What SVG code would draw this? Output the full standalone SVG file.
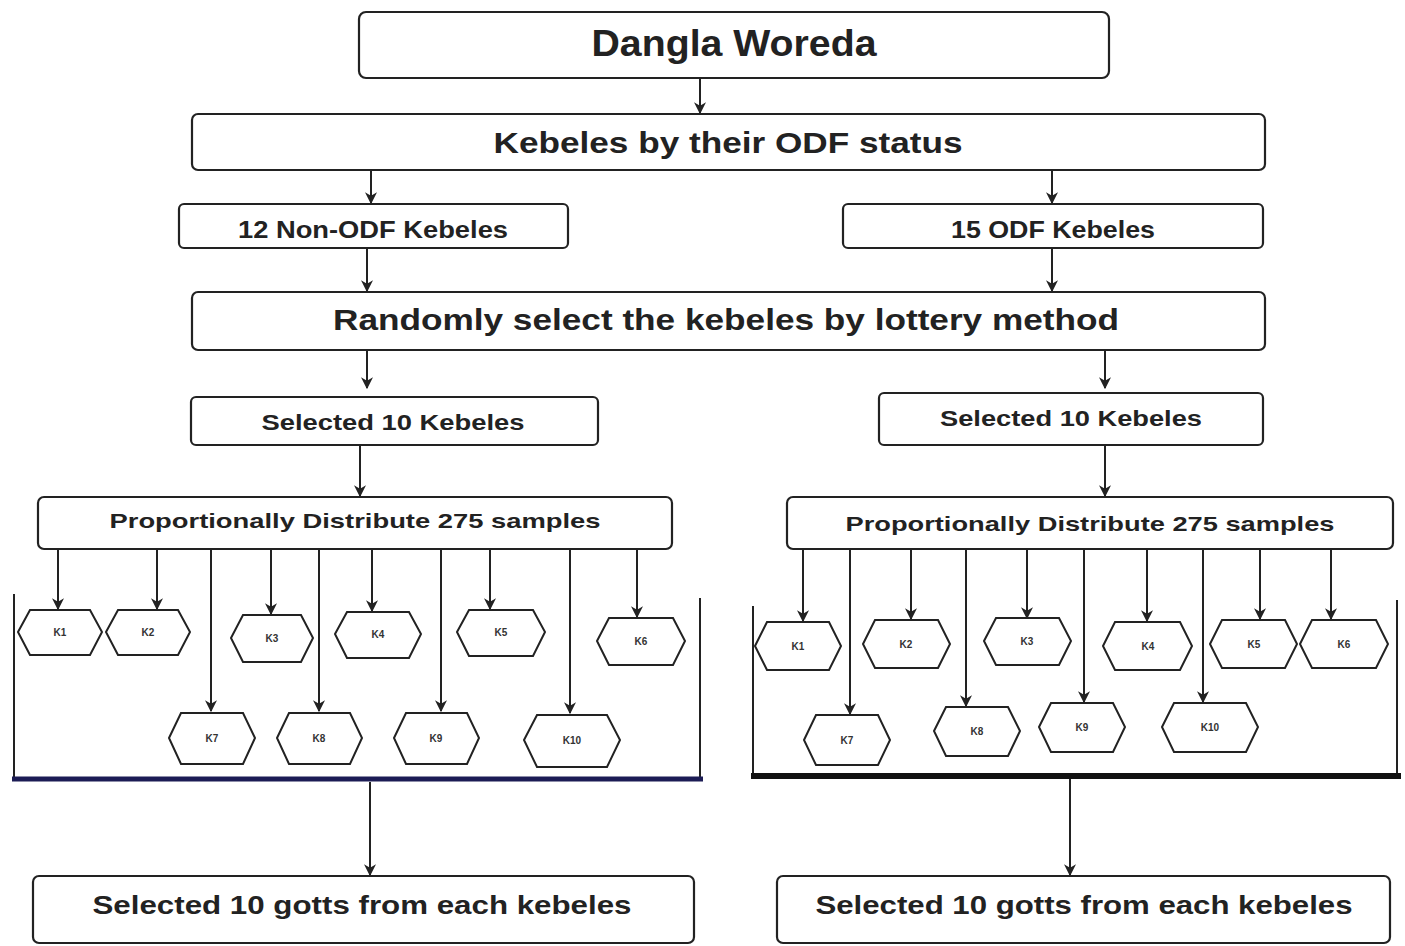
<svg xmlns="http://www.w3.org/2000/svg" width="1405" height="946" viewBox="0 0 1405 946">
<style>
.box{fill:#fff;stroke:#222;stroke-width:2.2}
.hex{fill:#fff;stroke:#222;stroke-width:2}
.t{font-family:"Liberation Sans",Arial,sans-serif;font-weight:bold;fill:#222;text-anchor:middle}
.h{font-family:"Liberation Sans",Arial,sans-serif;font-weight:bold;fill:#333;text-anchor:middle;font-size:10px}
.c{stroke:#222;stroke-width:2;fill:none;marker-end:url(#ah)}
.frame{stroke:#222;stroke-width:2;fill:none}
</style>
<defs>
<marker id="ah" viewBox="0 0 10 10" refX="9" refY="5" markerWidth="6" markerHeight="6" markerUnits="strokeWidth" orient="auto">
<path d="M0,0 L10,5 L0,10 L3,5 Z" fill="#222"/>
</marker>
</defs>
<rect width="1405" height="946" fill="#fff"/>

<g id="connectors">
<line class="c" x1="700" y1="79" x2="700" y2="113"/>
<line class="c" x1="371" y1="171" x2="371" y2="203"/>
<line class="c" x1="1052" y1="171" x2="1052" y2="203"/>
<line class="c" x1="367" y1="249" x2="367" y2="291"/>
<line class="c" x1="1052" y1="249" x2="1052" y2="291"/>
<line class="c" x1="367" y1="351" x2="367" y2="388"/>
<line class="c" x1="1105" y1="351" x2="1105" y2="388"/>
<line class="c" x1="360" y1="446" x2="360" y2="496"/>
<line class="c" x1="1105" y1="446" x2="1105" y2="496"/>
<line class="c" x1="58" y1="550" x2="58" y2="609"/>
<line class="c" x1="157" y1="550" x2="157" y2="609"/>
<line class="c" x1="211" y1="550" x2="211" y2="711"/>
<line class="c" x1="271" y1="550" x2="271" y2="614"/>
<line class="c" x1="319" y1="550" x2="319" y2="711"/>
<line class="c" x1="372" y1="550" x2="372" y2="611"/>
<line class="c" x1="441" y1="550" x2="441" y2="711"/>
<line class="c" x1="490" y1="550" x2="490" y2="609"/>
<line class="c" x1="570" y1="550" x2="570" y2="713"/>
<line class="c" x1="637" y1="550" x2="637" y2="617"/>
<line class="c" x1="803" y1="550" x2="803" y2="621"/>
<line class="c" x1="850" y1="550" x2="850" y2="714"/>
<line class="c" x1="911" y1="550" x2="911" y2="619"/>
<line class="c" x1="966" y1="550" x2="966" y2="706"/>
<line class="c" x1="1027" y1="550" x2="1027" y2="618"/>
<line class="c" x1="1084" y1="550" x2="1084" y2="702"/>
<line class="c" x1="1147" y1="550" x2="1147" y2="621"/>
<line class="c" x1="1203" y1="550" x2="1203" y2="702"/>
<line class="c" x1="1260" y1="550" x2="1260" y2="619"/>
<line class="c" x1="1331" y1="550" x2="1331" y2="619"/>
<line class="c" x1="370" y1="782" x2="370" y2="875"/>
<line class="c" x1="1070" y1="779" x2="1070" y2="875"/>
</g>

<g id="frames">
<polyline class="frame" points="14,594 14,778"/>
<polyline class="frame" points="700,598 700,778"/>
<line x1="12" y1="779" x2="703" y2="779" stroke="#1c1c55" stroke-width="5"/>
<polyline class="frame" points="753,606 753,776"/>
<polyline class="frame" points="1397,600 1397,776"/>
<line x1="751" y1="776" x2="1401" y2="776" stroke="#111" stroke-width="6"/>
</g>

<g id="n-dangla"><rect class="box" x="359" y="12" width="750" height="66" rx="7"/><text class="t" x="734" y="56" font-size="37" textLength="285" lengthAdjust="spacingAndGlyphs">Dangla Woreda</text></g>
<g id="n-kebeles"><rect class="box" x="192" y="114" width="1073" height="56" rx="6"/><text class="t" x="728" y="153" font-size="30" textLength="469" lengthAdjust="spacingAndGlyphs">Kebeles by their ODF status</text></g>
<g id="n-nonodf"><rect class="box" x="179" y="204" width="389" height="44" rx="5"/><text class="t" x="373" y="238" font-size="23" textLength="270" lengthAdjust="spacingAndGlyphs">12 Non-ODF Kebeles</text></g>
<g id="n-odf"><rect class="box" x="843" y="204" width="420" height="44" rx="5"/><text class="t" x="1053" y="238" font-size="23" textLength="204" lengthAdjust="spacingAndGlyphs">15 ODF Kebeles</text></g>
<g id="n-random"><rect class="box" x="192" y="292" width="1073" height="58" rx="6"/><text class="t" x="726" y="330" font-size="30" textLength="786" lengthAdjust="spacingAndGlyphs">Randomly select the kebeles by lottery method</text></g>
<g id="n-sel-left"><rect class="box" x="191" y="397" width="407" height="48" rx="5"/><text class="t" x="393" y="430" font-size="22" textLength="263" lengthAdjust="spacingAndGlyphs">Selected 10 Kebeles</text></g>
<g id="n-sel-right"><rect class="box" x="879" y="393" width="384" height="52" rx="5"/><text class="t" x="1071" y="426" font-size="22" textLength="262" lengthAdjust="spacingAndGlyphs">Selected 10 Kebeles</text></g>
<g id="n-prop-left"><rect class="box" x="38" y="497" width="634" height="52" rx="6"/><text class="t" x="355" y="528" font-size="21" textLength="491" lengthAdjust="spacingAndGlyphs">Proportionally Distribute 275 samples</text></g>
<g id="n-prop-right"><rect class="box" x="787" y="497" width="606" height="52" rx="6"/><text class="t" x="1090" y="531" font-size="21" textLength="489" lengthAdjust="spacingAndGlyphs">Proportionally Distribute 275 samples</text></g>

<g id="l-k1"><polygon class="hex" points="18,632 30,610 90,610 102,632 90,655 30,655"/><text class="h" x="60" y="636">K1</text></g>
<g id="l-k2"><polygon class="hex" points="106,632 118,610 178,610 190,632 178,655 118,655"/><text class="h" x="148" y="636">K2</text></g>
<g id="l-k3"><polygon class="hex" points="231,638 243,615 301,615 313,638 301,662 243,662"/><text class="h" x="272" y="642">K3</text></g>
<g id="l-k4"><polygon class="hex" points="335,634 347,612 409,612 421,634 409,658 347,658"/><text class="h" x="378" y="638">K4</text></g>
<g id="l-k5"><polygon class="hex" points="457,632 469,610 533,610 545,632 533,656 469,656"/><text class="h" x="501" y="636">K5</text></g>
<g id="l-k6"><polygon class="hex" points="597,641 609,618 673,618 685,641 673,665 609,665"/><text class="h" x="641" y="645">K6</text></g>
<g id="l-k7"><polygon class="hex" points="169,738 181,713 243,713 255,738 243,764 181,764"/><text class="h" x="212" y="742">K7</text></g>
<g id="l-k8"><polygon class="hex" points="277,738 289,713 350,713 362,738 350,764 289,764"/><text class="h" x="319" y="742">K8</text></g>
<g id="l-k9"><polygon class="hex" points="394,738 406,713 467,713 479,738 467,764 406,764"/><text class="h" x="436" y="742">K9</text></g>
<g id="l-k10"><polygon class="hex" points="524,740 537,715 607,715 620,740 607,767 537,767"/><text class="h" x="572" y="744">K10</text></g>

<g id="r-k1"><polygon class="hex" points="755,646 767,622 829,622 841,646 829,670 767,670"/><text class="h" x="798" y="650">K1</text></g>
<g id="r-k2"><polygon class="hex" points="863,644 875,620 938,620 950,644 938,668 875,668"/><text class="h" x="906" y="648">K2</text></g>
<g id="r-k3"><polygon class="hex" points="984,641 996,618 1059,618 1071,641 1059,665 996,665"/><text class="h" x="1027" y="645">K3</text></g>
<g id="r-k4"><polygon class="hex" points="1103,646 1115,622 1180,622 1192,646 1180,670 1115,670"/><text class="h" x="1148" y="650">K4</text></g>
<g id="r-k5"><polygon class="hex" points="1210,644 1222,620 1285,620 1297,644 1285,668 1222,668"/><text class="h" x="1254" y="648">K5</text></g>
<g id="r-k6"><polygon class="hex" points="1300,644 1312,620 1376,620 1388,644 1376,668 1312,668"/><text class="h" x="1344" y="648">K6</text></g>
<g id="r-k7"><polygon class="hex" points="804,740 816,715 878,715 890,740 878,765 816,765"/><text class="h" x="847" y="744">K7</text></g>
<g id="r-k8"><polygon class="hex" points="934,731 946,707 1008,707 1020,731 1008,756 946,756"/><text class="h" x="977" y="735">K8</text></g>
<g id="r-k9"><polygon class="hex" points="1039,727 1051,703 1113,703 1125,727 1113,752 1051,752"/><text class="h" x="1082" y="731">K9</text></g>
<g id="r-k10"><polygon class="hex" points="1162,727 1174,703 1246,703 1258,727 1246,752 1174,752"/><text class="h" x="1210" y="731">K10</text></g>

<g id="n-gotts-left"><rect class="box" x="33" y="876" width="661" height="67" rx="6"/><text class="t" x="362" y="914" font-size="25" textLength="539" lengthAdjust="spacingAndGlyphs">Selected 10 gotts from each kebeles</text></g>
<g id="n-gotts-right"><rect class="box" x="777" y="876" width="613" height="67" rx="6"/><text class="t" x="1084" y="914" font-size="25" textLength="537" lengthAdjust="spacingAndGlyphs">Selected 10 gotts from each kebeles</text></g>
</svg>
